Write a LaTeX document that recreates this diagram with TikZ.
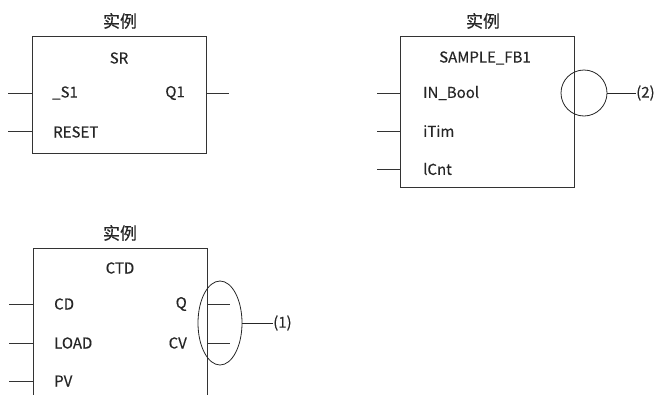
\documentclass[tikz,border=0pt]{standalone}
\usepackage{fontspec}
\setmainfont{Noto Sans CJK SC}[FakeBold=0.4]
\usetikzlibrary{shapes.geometric}
\tikzset{
  fb/.style={draw=black!80, line width=0.9pt},
  wire/.style={draw=black!80, line width=0.9pt},
  lbl/.style={font=\fontsize{15}{17}\selectfont, inner sep=0pt, text=black!85},
  ttl/.style={font=\fontsize{17}{19}\selectfont, inner sep=0pt, text=black!85},
  ring/.style={draw=black!85, line width=0.8pt}
}
\begin{document}
\begin{tikzpicture}[x=1pt,y=-1pt]
\useasboundingbox (0,0) rectangle (661,394);
\begin{scope}
\clip (0,0) rectangle (661,394);
% SR block
\node[ttl] (t1) at (120,21) {实例};
\draw[fb] (32,36) rectangle (206,153);
\node[lbl] (sr) at (119,58) {SR};
\node[lbl,anchor=west] (s1) at (52,93) {\_S1};
\node[lbl,anchor=west] (rst) at (53,132) {RESET};
\node[lbl,anchor=east] (q1) at (185,93) {Q1};
\coordinate (a1) at (8,93); \coordinate (a1e) at (32,93);
\coordinate (a2) at (8,131); \coordinate (a2e) at (32,131);
\coordinate (a3) at (206,93); \coordinate (a3e) at (229,93);
\draw[wire] (a1) -- (a1e);
\draw[wire] (a2) -- (a2e);
\draw[wire] (a3) -- (a3e);
% SAMPLE_FB1 block
\node[ttl] (t2) at (483,21) {实例};
\draw[fb] (400,36) rectangle (574,187);
\node[lbl] (fb1) at (485,58) {SAMPLE\_FB1};
\node[lbl,anchor=west] (inb) at (423,93) {IN\_Bool};
\node[lbl,anchor=west] (itim) at (423,131) {iTim};
\node[lbl,anchor=west] (lcnt) at (423,169) {lCnt};
\coordinate (b1) at (377,93); \coordinate (b1e) at (400,93);
\coordinate (b2) at (377,131); \coordinate (b2e) at (400,131);
\coordinate (b3) at (377,169); \coordinate (b3e) at (400,169);
\draw[wire] (b1) -- (b1e);
\draw[wire] (b2) -- (b2e);
\draw[wire] (b3) -- (b3e);
\node[ring, circle, minimum size=46pt, inner sep=0pt] (c2) at (584,93) {};
\node[lbl,anchor=west] (n2) at (636,93) {(2)};
\draw[ring] (c2.east) -- (n2.west);
% CTD block
\node[ttl] (t3) at (120,233) {实例};
\draw[fb] (33,248) rectangle (207,420);
\node[lbl] (ctd) at (120,268) {CTD};
\node[lbl,anchor=west] (cd) at (54,304) {CD};
\node[lbl,anchor=west] (load) at (54,343) {LOAD};
\node[lbl,anchor=west] (pv) at (54,381) {PV};
\node[lbl,anchor=east] (q) at (187,304) {Q};
\node[lbl,anchor=east] (cv) at (187,343) {CV};
\coordinate (d1) at (9,304); \coordinate (d1e) at (33,304);
\coordinate (d2) at (9,343); \coordinate (d2e) at (33,343);
\coordinate (d3) at (9,381); \coordinate (d3e) at (33,381);
\coordinate (e1) at (207,304); \coordinate (e1e) at (230,304);
\coordinate (e2) at (207,343); \coordinate (e2e) at (230,343);
\draw[wire] (d1) -- (d1e);
\draw[wire] (d2) -- (d2e);
\draw[wire] (d3) -- (d3e);
\draw[wire] (e1) -- (e1e);
\draw[wire] (e2) -- (e2e);
\node[ring, ellipse, minimum width=44pt, minimum height=84pt, inner sep=0pt] (c1) at (220,323) {};
\node[lbl,anchor=west] (n1) at (273,323) {(1)};
\draw[ring] (c1.east) -- (n1.west);
\end{scope}
\end{tikzpicture}
\end{document}
